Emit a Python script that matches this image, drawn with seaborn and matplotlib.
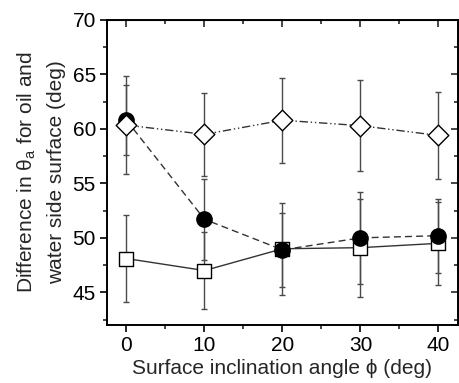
import numpy as np
import pandas as pd
import matplotlib
matplotlib.use("Agg")
import matplotlib.pyplot as plt
import seaborn as sns
from matplotlib.ticker import MultipleLocator

angle = [0, 10, 20, 30, 40]

square_y = [48.1, 47.0, 49.0, 49.1, 49.5]
square_err = [4.0, 3.5, 4.2, 4.5, 3.8]

circle_y = [60.8, 51.7, 48.9, 50.0, 50.2]
circle_err = [3.2, 3.7, 3.4, 4.2, 3.4]

diamond_y = [60.35, 59.5, 60.8, 60.3, 59.4]
diamond_err = [4.5, 3.8, 3.9, 4.2, 4.0]

sns.set_style("ticks")
plt.rcParams["font.family"] = ["Liberation Sans", "DejaVu Sans"]
plt.rcParams["mathtext.fontset"] = "custom"
plt.rcParams["mathtext.rm"] = "Liberation Sans"

fig = plt.figure(figsize=(4.6, 3.83), dpi=100)
ax = fig.add_axes([0.2326, 0.1514, 0.7630, 0.7964])

series = [
    ("square", square_y, square_err, "s", "white", "-", 9.5),
    ("circle", circle_y, circle_err, "o", "black", (0, (5, 3)), 11),
    ("diamond", diamond_y, diamond_err, "D", "white", (0, (6, 2, 1, 2, 1, 2)), 10.5),
]

ecol = "#4a4a4a"
for name, y, err, mk, fc, ls, ms in series:
    ax.errorbar(angle, y, yerr=err, fmt="none", ecolor=ecol, elinewidth=1.0,
                capsize=2.5, capthick=1.0, zorder=2)

z = 3
for name, y, err, mk, fc, ls, ms in series:
    df = pd.DataFrame({"angle": angle, "value": y})
    sns.lineplot(data=df, x="angle", y="value", ax=ax, color="#333333",
                 linewidth=1.0, linestyle=ls, zorder=z)
    sns.scatterplot(data=df, x="angle", y="value", ax=ax, marker=mk, s=ms ** 2,
                    facecolor=fc, edgecolor="black", linewidth=1.0, zorder=z + 1)
    z += 2

ax.set_xlim(-2.5, 42.5)
ax.set_ylim(42, 70)
ax.xaxis.set_major_locator(MultipleLocator(10))
ax.xaxis.set_minor_locator(MultipleLocator(5))
ax.yaxis.set_major_locator(MultipleLocator(5))
ax.yaxis.set_minor_locator(MultipleLocator(2.5))
ax.tick_params(which="major", direction="out", length=5, width=1.2, labelsize=15,
               colors="black", pad=3)
ax.tick_params(which="minor", direction="out", length=3, width=1.2)

for s in ax.spines.values():
    s.set_visible(True)
    s.set_linewidth(1.4)
    s.set_color("black")

top = ax.secondary_xaxis("top")
top.xaxis.set_major_locator(MultipleLocator(10))
top.xaxis.set_minor_locator(MultipleLocator(5))
top.tick_params(which="major", direction="in", length=5, width=1.2, labeltop=False)
top.tick_params(which="minor", direction="in", length=3, width=1.2)
right = ax.secondary_yaxis("right")
right.yaxis.set_major_locator(MultipleLocator(5))
right.yaxis.set_minor_locator(MultipleLocator(2.5))
right.tick_params(which="major", direction="in", length=5, width=1.2, labelright=False)
right.tick_params(which="minor", direction="in", length=3, width=1.2)

ax.set_xlabel("Surface inclination angle \u03d5 (deg)", fontsize=15, labelpad=3)
ax.set_ylabel("Difference in \u03b8$_\\mathregular{a}$ for oil and\nwater side surface (deg)",
              fontsize=15, labelpad=5, linespacing=1.6)

fig.savefig("out.png", dpi=100)
